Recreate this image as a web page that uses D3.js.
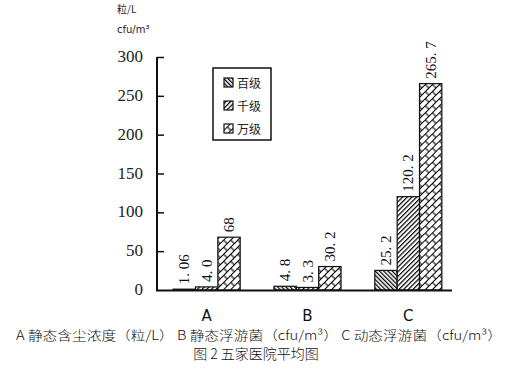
<!DOCTYPE html>
<html>
<head>
<meta charset="utf-8">
<script src="https://cdn.jsdelivr.net/npm/d3@7"></script>
<style>
  body { margin: 0; background: #fff; }
  svg { display: block; }
</style>
</head>
<body>
<div id="chart"></div>
<script>
// data
const categories = ["A", "B", "C"];
const seriesNames = ["百级", "千级", "万级"];
const baiji = [1.06, 4.8, 25.2];
const qianji = [4.0, 3.3, 120.2];
const wanji = [68, 30.2, 265.7];
const valueLabels = [
  ["1. 06", "4. 0", "68"],
  ["4. 8", "3. 3", "30. 2"],
  ["25. 2", "120. 2", "265. 7"]
];
const yTicks = [0, 50, 100, 150, 200, 250, 300];
const captionLine = "A 静态含尘浓度（粒/L） B 静态浮游菌（cfu/m³） C 动态浮游菌（cfu/m³）";
const figureTitle = "图 2  五家医院平均图";

const width = 509, height = 377;
const svg = d3.select("#chart").append("svg")
  .attr("width", width).attr("height", height);

// hatch patterns
const defs = svg.append("defs");
const p1 = defs.append("pattern").attr("id", "hatch0")
  .attr("patternUnits", "userSpaceOnUse").attr("width", 3).attr("height", 3)
  .attr("patternTransform", "rotate(-45)");
p1.append("rect").attr("width", 3).attr("height", 3).attr("fill", "#fff");
p1.append("line").attr("x1", 0.6).attr("y1", 0).attr("x2", 0.6).attr("y2", 3)
  .attr("stroke", "#000").attr("stroke-width", 1.3);
const p2 = defs.append("pattern").attr("id", "hatch1")
  .attr("patternUnits", "userSpaceOnUse").attr("width", 3.3).attr("height", 3.3)
  .attr("patternTransform", "rotate(45)");
p2.append("rect").attr("width", 3.3).attr("height", 3.3).attr("fill", "#fff");
p2.append("line").attr("x1", 0.6).attr("y1", 0).attr("x2", 0.6).attr("y2", 3.3)
  .attr("stroke", "#000").attr("stroke-width", 1.2);
const p3 = defs.append("pattern").attr("id", "hatch2")
  .attr("patternUnits", "userSpaceOnUse").attr("width", 10).attr("height", 10)
  .attr("patternTransform", "rotate(-45)");
p3.append("rect").attr("width", 10).attr("height", 10).attr("fill", "#fff");
p3.append("path")
  .attr("d", "M0,0.5H10M0,5.5H10M1,0.5V5.5M6,5.5V10.5")
  .attr("stroke", "#000").attr("stroke-width", 1.1).attr("fill", "none");

const x0 = d3.scaleBand().domain(categories)
  .range([156, 459]).paddingInner(0.335).paddingOuter(0.17);
const x1 = d3.scaleBand().domain(d3.range(3)).range([0, x0.bandwidth()]);
const y = d3.scaleLinear().domain([0, 300]).range([290, 57]);

const series = [baiji, qianji, wanji];

// bars
categories.forEach((c, ci) => {
  const g = svg.append("g").attr("transform", `translate(${x0(c)},0)`);
  series.forEach((s, si) => {
    const v = s[ci];
    g.append("rect")
      .attr("x", x1(si))
      .attr("y", y(v))
      .attr("width", x1.bandwidth())
      .attr("height", y(0) - y(v))
      .attr("fill", `url(#hatch${si})`)
      .attr("stroke", "#111")
      .attr("stroke-width", 1.2);
    const cx = x1(si) + x1.bandwidth() / 2 + 5;
    g.append("text")
      .attr("transform", `translate(${cx},${y(v) - 5}) rotate(-90)`)
      .attr("font-family", "Liberation Serif, serif")
      .attr("font-size", 15)
      .attr("fill", "#111")
      .text(valueLabels[ci][si]);
  });
});

// y axis
const yAxis = svg.append("g").attr("transform", "translate(157,0)")
  .call(d3.axisRight(y).tickValues(yTicks.slice(1)).tickSize(7).tickFormat(""));
yAxis.select(".domain").attr("d", "M0,57V290").attr("stroke", "#111").attr("stroke-width", 2);
yAxis.selectAll(".tick line").attr("stroke", "#111").attr("stroke-width", 1.5);

svg.append("g").selectAll("text").data(yTicks).join("text")
  .attr("x", 143).attr("y", d => y(d) + 5)
  .attr("text-anchor", "end")
  .attr("font-family", "Liberation Serif, serif")
  .attr("font-size", 17)
  .attr("fill", "#222")
  .text(d => d);

// x baseline
svg.append("line").attr("x1", 156).attr("x2", 452).attr("y1", 290.5).attr("y2", 290.5)
  .attr("stroke", "#111").attr("stroke-width", 2);

// category labels
svg.append("g").selectAll("text").data(categories).join("text")
  .attr("x", d => x0(d) + x0.bandwidth() / 2)
  .attr("y", 321)
  .attr("text-anchor", "middle")
  .attr("font-family", "DejaVu Sans, sans-serif")
  .attr("font-size", 15)
  .attr("fill", "#111")
  .text(d => d);

// unit labels
svg.append("text").attr("x", 117).attr("y", 13)
  .attr("font-family", "Noto Sans CJK SC, sans-serif").attr("font-size", 10)
  .attr("fill", "#2a1a2a").text("粒/L");
svg.append("text").attr("x", 117).attr("y", 33)
  .attr("font-family", "DejaVu Sans, sans-serif").attr("font-size", 10)
  .attr("fill", "#2a1a2a").text("cfu/m³");

// legend
const lg = svg.append("g");
lg.append("rect").attr("x", 213).attr("y", 68).attr("width", 58).attr("height", 72)
  .attr("fill", "#fff").attr("stroke", "#111").attr("stroke-width", 1.5);
seriesNames.forEach((n, i) => {
  const yy = 83 + i * 23;
  lg.append("rect").attr("x", 224).attr("y", yy - 5).attr("width", 9).attr("height", 9)
    .attr("fill", `url(#hatch${i})`).attr("stroke", "#111").attr("stroke-width", 1.2);
  lg.append("text").attr("x", 237).attr("y", yy + 5)
    .attr("font-family", "Noto Sans CJK SC, sans-serif").attr("font-size", 12)
    .attr("fill", "#222").text(n);
});

// captions
svg.append("text").attr("x", 16).attr("y", 340)
  .attr("font-family", "Noto Sans CJK SC, sans-serif").attr("font-size", 13)
  .attr("font-weight", 300)
  .attr("textLength", 486).attr("lengthAdjust", "spacingAndGlyphs")
  .attr("fill", "#111").text(captionLine);
svg.append("text").attr("x", 256).attr("y", 359).attr("text-anchor", "middle")
  .attr("font-family", "Noto Sans CJK SC, sans-serif").attr("font-size", 14)
  .attr("font-weight", 300)
  .attr("fill", "#111").text(figureTitle);
</script>
</body>
</html>
